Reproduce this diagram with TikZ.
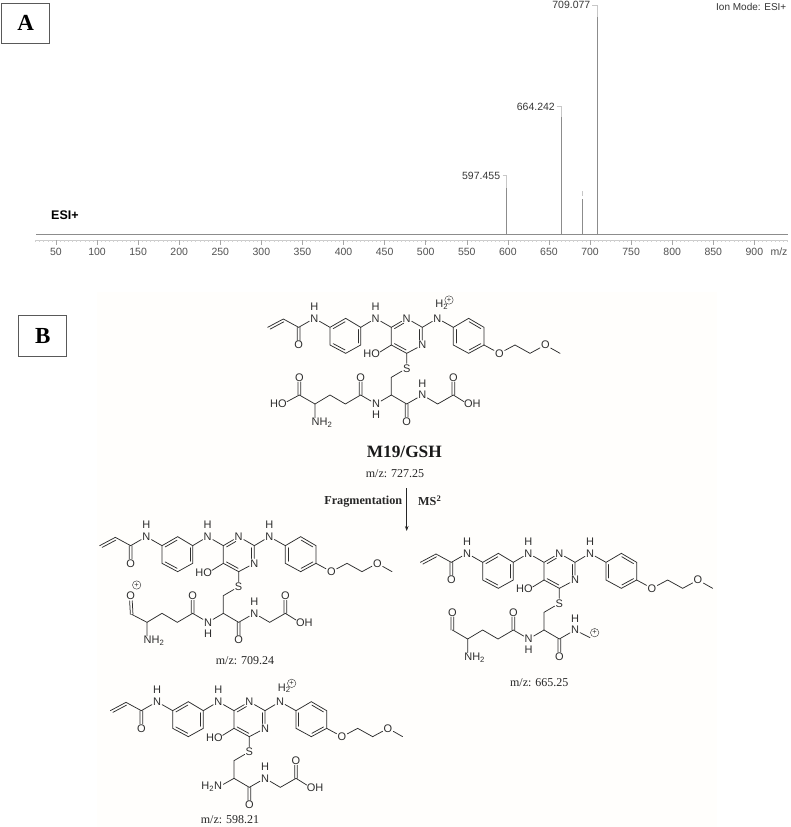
\documentclass[tikz,border=0pt]{standalone}
\usepackage{fontspec}
\setmainfont{Liberation Serif}
\newfontfamily\lsans{Liberation Sans}
\usetikzlibrary{calc,arrows.meta}
\definecolor{bondc}{gray}{0.18}
\definecolor{paper}{HTML}{FFFEFC}
\tikzset{
 atom/.style={font=\lsans\fontsize{11}{12}\selectfont,text=bondc,inner sep=0.9pt},
 bond/.style={draw=bondc,line width=0.75pt,line cap=round},
 plusc/.style={draw=bondc,circle,line width=0.4pt,inner sep=0pt,minimum size=8.4pt,font=\lsans\fontsize{7.5}{8}\selectfont,text=bondc},
 axl/.style={font=\lsans\fontsize{10.5}{12}\selectfont,text=black!68,inner sep=0pt},
 pkl/.style={font=\lsans\fontsize{10.5}{12}\selectfont,text=black!78,inner sep=0pt,anchor=east},
 lead/.style={draw=black!22,line width=0.5pt},
 peak/.style={draw=black!45,line width=1pt},
 mz/.style={font=\fontsize{12}{14}\selectfont,text=black!85,inner sep=0pt},
 panel/.style={draw=black!65,line width=1.1pt,font=\bfseries\fontsize{23}{26}\selectfont,anchor=center,inner sep=0pt}
}
% inner double-bond line, offset to the side given by angle #3, trimmed by fractions #4,#5
\newcommand\dbd[5]{\path[bond] ($(#1)!#4!(#2)!2.7pt!#3:(#2)$) -- ($(#1)!#5!(#2)!2.7pt!#3:(#2)$);}
% C=O drawn as two parallel strokes
\newcommand\dco[2]{%
 \path[bond] ($(#1)!0!(#2)!1.3pt!90:(#2)$) -- ($(#1)!.74!(#2)!1.3pt!90:(#2)$);
 \path[bond] ($(#1)!0!(#2)!1.3pt!-90:(#2)$) -- ($(#1)!.74!(#2)!1.3pt!-90:(#2)$);}
% Common skeleton; #1 = what stands on the right-hand aniline N
\newcommand\core[1]{%
 \coordinate (v1) at (113,112); \coordinate (v2) at (160,87); \coordinate (co) at (206,112);
 \node[atom] (ocoa) at (206,165) {O};
 \node[atom] (n1) at (253,85) {N}; \node[atom] (h1) at (253,50) {H};
 \coordinate (a1) at (300,112); \coordinate (a2) at (347,85); \coordinate (a3) at (392,112);
 \coordinate (a4) at (392,165); \coordinate (a5) at (347,190); \coordinate (a6) at (300,165);
 \node[atom] (n2) at (437,85) {N}; \node[atom] (h2) at (437,50) {H};
 \coordinate (p4) at (484,112); \node[atom] (p3) at (530,85) {N}; \coordinate (p2) at (577,112);
 \node[atom] (p1) at (577,165) {N}; \coordinate (p6) at (530,190); \coordinate (p5) at (484,165);
 \node[atom] (ho) at (425,192) {HO}; \coordinate (hob) at (450,186);
 \node[atom] (s) at (530,235) {S}; \coordinate (ch2) at (484,262); \coordinate (ch) at (484,315);
 \node[atom] (n3) at (622,85) {N}; #1
 \coordinate (r1) at (670,112); \coordinate (r2) at (716,85); \coordinate (r3) at (762,112);
 \coordinate (r4) at (762,165); \coordinate (r5) at (716,190); \coordinate (r6) at (670,165);
 \node[atom] (o1) at (808,190) {O}; \coordinate (e1) at (855,165); \coordinate (e2) at (900,190);
 \node[atom] (o2) at (946,165) {O}; \coordinate (me) at (990,190);
 \path[bond] (v1) -- (v2) -- (co) -- (n1) -- (a1) -- (a2) -- (a3) -- (a4) -- (a5) -- (a6) -- (a1);
 \dbd{v1}{v2}{-90}{.08}{.95}
 \dco{co}{ocoa}
 \dbd{a3}{a4}{-90}{.12}{.88}\dbd{a5}{a6}{-90}{.12}{.88}\dbd{a1}{a2}{-90}{.12}{.88}
 \path[bond] (a3) -- (n2) -- (p4) -- (p3) -- (p2) -- (p1) -- (p6) -- (p5) -- (p4);
 \dbd{p4}{p3}{-90}{.12}{.72}\dbd{p2}{p1}{-90}{.12}{.72}\dbd{p6}{p5}{-90}{.12}{.88}
 \path[bond] (p5) -- (hob);
 \path[bond] (p6) -- (s) -- (ch2) -- (ch);
 \path[bond] (p2) -- (n3) -- (r1) -- (r2) -- (r3) -- (r4) -- (r5) -- (r6) -- (r1);
 \dbd{r6}{r1}{-90}{.12}{.88}\dbd{r2}{r3}{-90}{.12}{.88}\dbd{r4}{r5}{-90}{.12}{.88}
 \path[bond] (r4) -- (o1) -- (e1) -- (e2) -- (o2) -- (me);
}
\newcommand\hplus{\node[atom] (h3) at (635,45) {H\textsubscript{2}}; \node[plusc] (pl) at (657,30) {+};}
\newcommand\hplain{\node[atom] (h3) at (622,50) {H};}
% cysteine amide carbonyl and following NH
\newcommand\cysco{%
 \coordinate (cc) at (530,342); \node[atom] (oc) at (530,395) {O};
 \node[atom] (n4) at (577,315) {N}; \node[atom] (h4) at (577,280) {H};
 \path[bond] (ch) -- (cc) -- (n4);
 \dco{cc}{oc}}
% glycine tail
\newcommand\glytail{%
 \coordinate (g1) at (623,342); \coordinate (g2) at (670,315);
 \node[atom] (og) at (670,262) {O}; \node[atom] (ohg) at (727,342) {OH}; \coordinate (ohb) at (702,335);
 \path[bond] (n4) -- (g1) -- (g2) -- (ohb);
 \dco{g2}{og}}
% gamma-glutamyl chain up to the alpha carbon
\newcommand\gluchain{%
 \node[atom] (n5) at (438,342) {N}; \node[atom] (h5) at (438,375) {H};
 \coordinate (k1) at (392,315); \node[atom] (ok) at (392,262) {O};
 \coordinate (k2) at (346,342); \coordinate (k3) at (300,315); \coordinate (k4) at (255,342);
 \node[atom] (nh2) at (276,398) {NH\textsubscript{2}}; \coordinate (nhb) at (255,383);
 \path[bond] (ch) -- (n5) -- (k1) -- (k2) -- (k3) -- (k4) -- (nhb);
 \dco{k1}{ok}}
\begin{document}
\begin{tikzpicture}[x=1pt,y=-1pt]
\useasboundingbox (0,0) rectangle (790,827);
\fill[white] (0,0) rectangle (790,827);
\fill[paper] (97,291.7) rectangle (716.7,827);
% --- Panel A ---
\node[panel,minimum width=48pt,minimum height=40.5pt] (A) at (25.8,23.3) {A};
\node[font=\lsans\bfseries\fontsize{12.5}{14}\selectfont,inner sep=0pt,anchor=west] (esi) at (51,215) {ESI+};
\node[font=\lsans\fontsize{10}{12}\selectfont,text=black!80,inner sep=0pt,anchor=west] (ion) at (716,7) {Ion Mode: ESI+};
\draw[draw=black!45,line width=0.8pt] (36,234.3) -- (788,234.3);
\draw[draw=black!20,line width=0.5pt] (36,240) -- (788,240);
\foreach \m in {25,30,...,940}{
  \pgfmathsetmacro\xx{14.9+0.8216*\m}
  \draw[draw=black!18,line width=0.4pt] (\xx,240) -- (\xx,241.8);
}
\foreach \m in {50,100,...,900}{
  \pgfmathsetmacro\xx{14.9+0.8216*\m}
  \draw[draw=black!35,line width=0.5pt] (\xx,240) -- (\xx,245);
  \node[axl] (t\m) at (\xx,251.7) {\m};
}
\node[axl] (mzax) at (779,251.7) {m/z};
% peaks
\draw[peak,line width=0.75pt] (506.3,234.3) -- (506.3,188);
\draw[peak] (561.3,234.3) -- (561.3,117);
\draw[peak] (582.7,234.3) -- (582.7,199);
\draw[peak] (597.7,234.3) -- (597.7,17);
\draw[lead] (502.7,175.7) -- (506.3,175.7) -- (506.3,188);
\draw[lead] (556.7,106.7) -- (561.3,106.7) -- (561.3,117);
\draw[lead] (582.7,191) -- (582.7,196);
\draw[lead] (592,5) -- (597.7,5) -- (597.7,17);
\node[pkl] (p597) at (500.3,175.7) {597.455};
\node[pkl] (p664) at (555,106.7) {664.242};
\node[pkl] (p709) at (590.5,5) {709.077};
% --- Panel B ---
\node[panel,minimum width=48pt,minimum height=41pt] (B) at (42.7,336) {B};
% parent ion
\begin{scope}[shift={(230pt,-290pt)},x=0.33333pt,y=-0.33333pt]
 \core{\hplus}\cysco\glytail\gluchain
 \coordinate (k5) at (208,315); \node[atom] (ok5) at (208,262) {O};
 \node[atom] (ho5) at (145,342) {HO}; \coordinate (ho5b) at (171,335);
 \path[bond] (k4) -- (k5) -- (ho5b);
 \dco{k5}{ok5}
\end{scope}
\node[font=\bfseries\fontsize{17.3}{20}\selectfont,text=black!90,inner sep=0pt] (name) at (404.3,451.7) {M19/GSH};
\node[mz] (mz0) at (395,473.3) {m/z: 727.25};
\node[font=\bfseries\fontsize{12.2}{14}\selectfont,text=black!85,inner sep=0pt] (frag) at (363.3,502) {Fragmentation};
\node[font=\bfseries\fontsize{12.2}{14}\selectfont,text=black!85,inner sep=0pt,anchor=west] (ms2) at (418,501) {MS\textsuperscript{2}};
\coordinate (arra) at (406.7,488);
\coordinate (arrb) at (406.7,531);
\draw[draw=black!85,line width=0.7pt,-{Stealth[length=5pt,width=3.6pt]}] (arra) -- (arrb);
% 709
\begin{scope}[shift={(62pt,-508.33pt)},x=0.33333pt,y=-0.33333pt]
 \core{\hplain}\cysco\glytail\gluchain
 \coordinate (k5) at (209,318); \node[atom] (ok5) at (206,263) {O};
 \node[plusc] (pl5) at (224,230) {+};
 \path[bond] (k4) -- (k5);
 \dco{k5}{ok5}
\end{scope}
\node[mz] (mz1) at (245,660.7) {m/z: 709.24};
% 665
\begin{scope}[shift={(382.67pt,-525pt)},x=0.33333pt,y=-0.33333pt]
 \core{\hplain}\cysco\gluchain
 \coordinate (k5) at (209,315); \node[atom] (ok5) at (209,262) {O};
 \coordinate (g1) at (622,338);
 \node[plusc] (pl6) at (636,323) {+};
 \path[bond] (k4) -- (k5);
 \path[bond] (n4) -- (g1);
 \dco{k5}{ok5}
\end{scope}
\node[mz] (mz2) at (539.3,682.3) {m/z: 665.25};
% 598
\begin{scope}[shift={(72.67pt,-673.33pt)},x=0.33333pt,y=-0.33333pt]
 \core{\hplus}\cysco\glytail
 \node[atom] (h2n) at (417,340) {H\textsubscript{2}N}; \coordinate (h2nb) at (452,333);
 \path[bond] (ch) -- (h2nb);
\end{scope}
\node[mz] (mz3) at (230,819.3) {m/z: 598.21};
\end{tikzpicture}
\end{document}
